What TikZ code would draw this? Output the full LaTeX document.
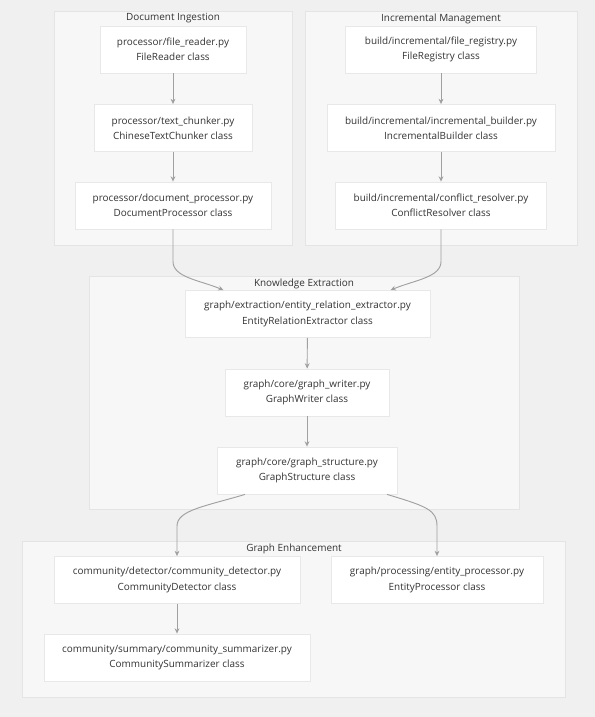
\documentclass[tikz,border=0pt]{standalone}
\usepackage{fontspec}
\setmainfont{Open Sans}
\usetikzlibrary{arrows.meta,calc}
\definecolor{bg}{HTML}{F0F0F0}
\definecolor{clfill}{HTML}{F7F7F7}
\definecolor{cldraw}{HTML}{E4E4E4}
\definecolor{boxdraw}{HTML}{E8E8E8}
\definecolor{edgecol}{HTML}{A0A0A0}
\definecolor{txt}{HTML}{333333}
\tikzset{
  box/.style={draw=boxdraw, fill=white, line width=0.6pt, minimum height=35.25pt, align=center,
    font=\fontsize{7.45pt}{11.5pt}\selectfont, text=txt, inner sep=0pt},
  cluster/.style={draw=cldraw, fill=clfill, line width=0.6pt},
  cltitle/.style={font=\fontsize{7.45pt}{10pt}\selectfont, text=txt, inner sep=0pt},
  edge/.style={draw=edgecol, line width=0.7pt, -{Stealth[length=4pt,width=3.6pt]}}
}
\begin{document}
\begin{tikzpicture}[x=0.75pt,y=-0.75pt]
\fill[bg] (0,0) rectangle (595,717);
\useasboundingbox (0,0) rectangle (595,717);
% clusters
\draw[cluster] (54,11) rectangle (292,245);
\node[cltitle] (t1) at (173,18.5) {Document Ingestion};
\draw[cluster] (305,11) rectangle (577,245);
\node[cltitle] (t2) at (441,18.5) {Incremental Management};
\draw[cluster] (89,276) rectangle (519,509);
\node[cltitle] (t3) at (304,283.5) {Knowledge Extraction};
\draw[cluster] (22,541) rectangle (565,697);
\node[cltitle] (t4) at (294,548.5) {Graph Enhancement};
% nodes
\node[box, minimum width=109.5pt] (fr) at (173,49.5) {processor/file\_reader.py\\FileReader class};
\node[box, minimum width=118.5pt] (tc) at (173,128) {processor/text\_chunker.py\\ChineseTextChunker class};
\node[box, minimum width=147pt] (dp) at (173,205.5) {processor/document\_processor.py\\DocumentProcessor class};
\node[box, minimum width=143.25pt] (frg) at (441,49.5) {build/incremental/file\_registry.py\\FileRegistry class};
\node[box, minimum width=171pt] (ib) at (441,128) {build/incremental/incremental\_builder.py\\IncrementalBuilder class};
\node[box, minimum width=158.25pt] (cr) at (441,205.5) {build/incremental/conflict\_resolver.py\\ConflictResolver class};
\node[box, minimum width=183.75pt] (ere) at (307.5,314) {graph/extraction/entity\_relation\_extractor.py\\EntityRelationExtractor class};
\node[box, minimum width=123pt] (gw) at (307,392.5) {graph/core/graph\_writer.py\\GraphWriter class};
\node[box, minimum width=135pt] (gs) at (307,470.5) {graph/core/graph\_structure.py\\GraphStructure class};
\node[box, minimum width=184.5pt] (cd) at (177,580) {community/detector/community\_detector.py\\CommunityDetector class};
\node[box, minimum width=159pt] (ep) at (437,580) {graph/processing/entity\_processor.py\\EntityProcessor class};
\node[box, minimum width=199.5pt] (cs) at (177,657.5) {community/summary/community\_summarizer.py\\CommunitySummarizer class};
% edges
\draw[edge] (fr) -- (tc);
\draw[edge] (tc) -- (dp);
\draw[edge] (frg) -- (ib);
\draw[edge] (ib) -- (cr);
\draw[edge] (ere) -- (gw);
\draw[edge] (gw) -- (gs);
\draw[edge] (cd) -- (cs);
\draw[edge] (dp.south) -- ++(0,32) .. controls +(0,16) and +(-24,-10) .. ($(ere.north)+(-84,0)$);
\draw[edge] (cr.south) -- ++(0,32) .. controls +(0,16) and +(24,-10) .. ($(ere.north)+(83,0)$);
\draw[edge] ($(gs.south)+(-62,0)$) .. controls +(-40,12) and +(0,-16) .. ($(cd.north)+(0,-30)$) -- (cd.north);
\draw[edge] ($(gs.south)+(80,0)$) .. controls +(40,12) and +(0,-16) .. ($(ep.north)+(0,-30)$) -- (ep.north);
\end{tikzpicture}
\end{document}
